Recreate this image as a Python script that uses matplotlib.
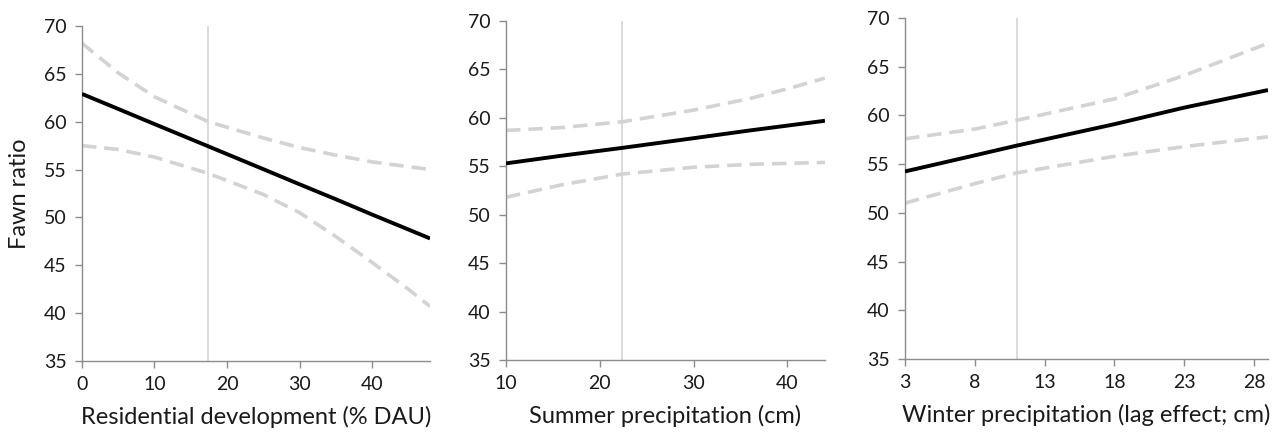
import matplotlib
matplotlib.use('Agg')
import matplotlib.pyplot as plt

plt.rcParams['font.family'] = ['Lato', 'DejaVu Sans']

# panel 1: residential development
res_x = [0, 5, 10, 17.4, 25, 30, 35, 40, 45, 48]
res_mean = [62.9, 61.33, 59.75, 57.43, 55.04, 53.46, 51.9, 50.3, 48.74, 47.8]
res_up = [68.2, 65.1, 62.6, 60.0, 58.3, 57.3, 56.5, 55.8, 55.3, 55.0]
res_lo = [57.5, 57.1, 56.3, 54.6, 52.4, 50.5, 48.0, 45.3, 42.5, 40.7]
res_ref = 17.4

# panel 2: summer precipitation
sum_x = [10, 16, 22.4, 30, 36, 40, 44]
sum_mean = [55.3, 56.1, 56.9, 57.9, 58.7, 59.2, 59.7]
sum_up = [58.7, 59.0, 59.6, 60.8, 62.0, 63.0, 64.1]
sum_lo = [51.8, 53.1, 54.2, 54.9, 55.2, 55.3, 55.4]
sum_ref = 22.4

# panel 3: winter precipitation (lag)
win_x = [3, 8, 11, 18, 23, 29]
win_mean = [54.25, 55.9, 56.9, 59.1, 60.8, 62.6]
win_up = [57.6, 58.6, 59.5, 61.7, 64.1, 67.4]
win_lo = [51.0, 53.0, 54.1, 55.8, 56.8, 57.8]
win_ref = 11.0

panels = [
    (res_x, res_mean, res_up, res_lo, res_ref, (0, 48), [0, 10, 20, 30, 40],
     'Residential development (% DAU)', [0.0639, 0.1644, 0.2713, 0.7755]),
    (sum_x, sum_mean, sum_up, sum_lo, sum_ref, (10, 44), [10, 20, 30, 40],
     'Summer precipitation (cm)', [0.3944, 0.1667, 0.2486, 0.7847]),
    (win_x, win_mean, win_up, win_lo, win_ref, (3, 29), [3, 8, 13, 18, 23, 28],
     'Winter precipitation (lag effect; cm)', [0.7054, 0.1690, 0.2829, 0.7894]),
]

fig = plt.figure(figsize=(12.83, 4.32), dpi=100)
axes = []
for x, m, up, lo, ref, xlim, xt, xlab, rect in panels:
    ax = fig.add_axes(rect)
    ax.axvline(ref, color='#d4d4d4', lw=1.2, zorder=1)
    ax.plot(x, up, color='#d3d3d3', lw=2.6, ls=(0, (4, 2.2)), zorder=2)
    ax.plot(x, lo, color='#d3d3d3', lw=2.6, ls=(0, (4, 2.2)), zorder=2)
    ax.plot(x, m, color='black', lw=2.8, zorder=3, solid_capstyle='butt')
    ax.set_xlim(*xlim)
    ax.set_ylim(35, 70)
    ax.set_xticks(xt)
    ax.set_yticks(range(35, 71, 5))
    for s in ['top', 'right']:
        ax.spines[s].set_visible(False)
    for s in ['left', 'bottom']:
        ax.spines[s].set_color('#8c8c8c')
        ax.spines[s].set_linewidth(1.0)
    ax.tick_params(direction='out', length=5, width=1.0, color='#8c8c8c',
                   labelsize=14, labelcolor='#1a1a1a', pad=6)
    ax.set_xlabel(xlab, fontsize=17, color='#1a1a1a', labelpad=9)
    axes.append(ax)

axes[0].set_ylabel('Fawn ratio', fontsize=17, color='#1a1a1a', labelpad=10)

fig.savefig('out.png', dpi=100, facecolor='white')
